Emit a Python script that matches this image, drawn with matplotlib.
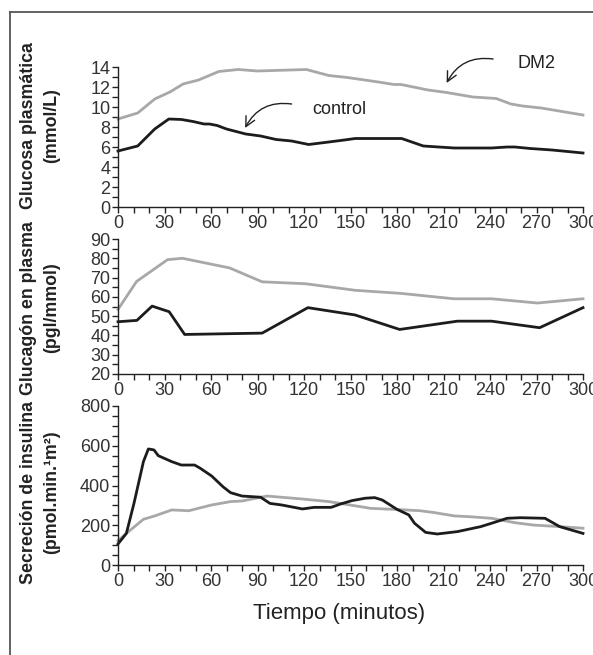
import matplotlib
matplotlib.use("Agg")
import matplotlib.pyplot as plt
from matplotlib.ticker import MultipleLocator
from matplotlib.lines import Line2D

plt.rcParams['font.family'] = ['Liberation Sans', 'DejaVu Sans']

# ---- Data ----
glu_ctrl_t = [0, 12.7, 23.7, 32.8, 41, 48.4, 55.5, 59, 64, 70, 82.4, 92, 102, 112, 123, 136, 146, 153, 183, 197, 217, 241, 251, 256, 266, 280, 300]
glu_ctrl_v = [5.6, 6.1, 7.8, 8.8, 8.75, 8.55, 8.3, 8.3, 8.15, 7.8, 7.3, 7.1, 6.75, 6.6, 6.25, 6.5, 6.7, 6.85, 6.85, 6.1, 5.9, 5.9, 6.0, 6.0, 5.85, 5.7, 5.4]
glu_dm2_t = [0, 12.7, 23.7, 33.5, 42, 52, 65, 77.5, 90, 121.5, 136, 148, 168, 178, 182.6, 200, 212, 229, 244, 253.5, 261, 273, 300]
glu_dm2_v = [8.8, 9.4, 10.8, 11.5, 12.3, 12.7, 13.55, 13.75, 13.6, 13.75, 13.15, 12.95, 12.5, 12.25, 12.25, 11.7, 11.45, 11.0, 10.85, 10.3, 10.1, 9.9, 9.2]

gcg_ctrl_t = [0, 12.2, 22, 33, 43, 93, 122.5, 153, 181.7, 219, 241, 272, 300]
gcg_ctrl_v = [47.1, 47.8, 55.2, 52.3, 40.5, 41.2, 54.4, 50.6, 43.1, 47.4, 47.4, 44.0, 54.4]
gcg_dm2_t = [0, 12, 32, 41.6, 72, 93, 121, 153, 182.5, 216.7, 241, 270.6, 300]
gcg_dm2_v = [53.5, 68.0, 79.3, 80.0, 75.0, 67.8, 66.8, 63.4, 61.8, 59.0, 59.0, 56.8, 59.0]

ins_ctrl_t = [0, 5.4, 10.3, 16.4, 19.6, 23.2, 26, 34.7, 40.8, 49.4, 53, 60.4, 67.7, 72.6, 80, 92, 98, 105.6, 119, 126.5, 137.5, 143.6, 151, 159.5, 165.6, 170.5, 180, 187.6, 191.3, 198.5, 206, 219, 234, 241, 251, 259.6, 275.5, 285, 300]
ins_ctrl_v = [106, 159, 310, 520, 584, 579, 550, 520, 503, 503, 487, 448, 394, 364, 347, 341, 310, 302, 282, 290, 290, 307, 324, 336, 339, 327, 280, 252, 210, 164, 156, 168, 193, 210, 235, 238, 235, 193, 159]
ins_dm2_t = [0, 5.4, 16.4, 23.7, 34.7, 45.7, 60.4, 72.6, 80, 96, 119, 136, 156, 163, 178, 195, 204.6, 217, 226.7, 241, 256, 268, 285, 300]
ins_dm2_v = [122, 159, 230, 247, 277, 273, 302, 319, 322, 347, 332, 319, 294, 285, 280, 273, 263, 247, 243, 235, 213, 201, 193, 185]

x_ticks = [0, 30, 60, 90, 120, 150, 180, 210, 240, 270, 300]
ylabels = [("Glucosa plasmática", "(mmol/L)"),
           ("Glucagón en plasma", "(pgl/mmol)"),
           ("Secreción de insulina", "(pmol.min.¹m²)")]
xlabel = "Tiempo (minutos)"

CTRL = "#1c1c1c"
DM2 = "#a8a8a8"
TXT = "#333333"

W, H = 593, 655
fig = plt.figure(figsize=(W / 100, H / 100), dpi=100)

def px_axes(left, right, top, bottom):
    return fig.add_axes([left / W, 1 - bottom / H, (right - left) / W, (bottom - top) / H])

ax1 = px_axes(118, 583, 67, 207)
ax2 = px_axes(118, 583, 239, 374)
ax3 = px_axes(118, 583, 406, 565)

specs = [
    (ax1, glu_ctrl_t, glu_ctrl_v, glu_dm2_t, glu_dm2_v, (0, 14), 2, 1),
    (ax2, gcg_ctrl_t, gcg_ctrl_v, gcg_dm2_t, gcg_dm2_v, (20, 90), 10, 5),
    (ax3, ins_ctrl_t, ins_ctrl_v, ins_dm2_t, ins_dm2_v, (0, 800), 200, 50),
]

for ax, ct, cv, dt, dv, ylim, ymaj, ymin in specs:
    ax.plot(dt, dv, color=DM2, lw=2.0, solid_joinstyle='round', clip_on=False)
    ax.plot(ct, cv, color=CTRL, lw=2.0, solid_joinstyle='round', clip_on=False)
    ax.set_xlim(0, 300)
    ax.set_ylim(*ylim)
    ax.set_xticks(x_ticks)
    ax.xaxis.set_minor_locator(MultipleLocator(10))
    ax.yaxis.set_major_locator(MultipleLocator(ymaj))
    ax.yaxis.set_minor_locator(MultipleLocator(ymin))
    for s in ("top", "right"):
        ax.spines[s].set_visible(False)
    for s in ("left", "bottom"):
        ax.spines[s].set_color("#222222")
        ax.spines[s].set_linewidth(1.0)
    ax.tick_params(which="both", direction="out", length=4, width=1.0, color="#222222",
                   labelsize=13, labelcolor=TXT, pad=1.5)
    ax.patch.set_alpha(0)

# annotations in glucose panel
arrow_kw = dict(arrowstyle="->,head_length=0.7,head_width=0.35",
                connectionstyle="arc3,rad=0.35", color="#222222", lw=1.0,
                shrinkA=0, shrinkB=0)
ax1.text(143, 9.7, "control", fontsize=13, color="#222222", ha="center", va="center")
ax1.text(270, 14.3, "DM2", fontsize=13, color="#222222", ha="center", va="center", clip_on=False)
ax1.annotate("", xy=(82, 7.9), xytext=(112, 10.3), arrowprops=arrow_kw)
ax1.annotate("", xy=(212, 12.4), xytext=(242, 14.8), annotation_clip=False, arrowprops=arrow_kw)

# y labels (two lines each)
centers = [126, 308, 492]
for (l1, l2), cy in zip(ylabels, centers):
    fig.text(29 / W, 1 - cy / H, l1, rotation=90, ha="center", va="center",
             fontsize=12.8, fontweight="bold", color="#222222")
    fig.text(52 / W, 1 - cy / H, l2, rotation=90, ha="center", va="center",
             fontsize=12.8, fontweight="bold", color="#222222")

fig.text(339 / W, 1 - 614 / H, xlabel, ha="center", va="center", fontsize=16, color="#222222")

# frame
fig.add_artist(Line2D([10 / W, 1.0], [1 - 12 / H, 1 - 12 / H], transform=fig.transFigure, color="#555555", lw=1.3))
fig.add_artist(Line2D([10 / W, 10 / W], [1 - 12 / H, 0.0], transform=fig.transFigure, color="#555555", lw=1.3))

fig.savefig("out.png", dpi=100, facecolor="white")
